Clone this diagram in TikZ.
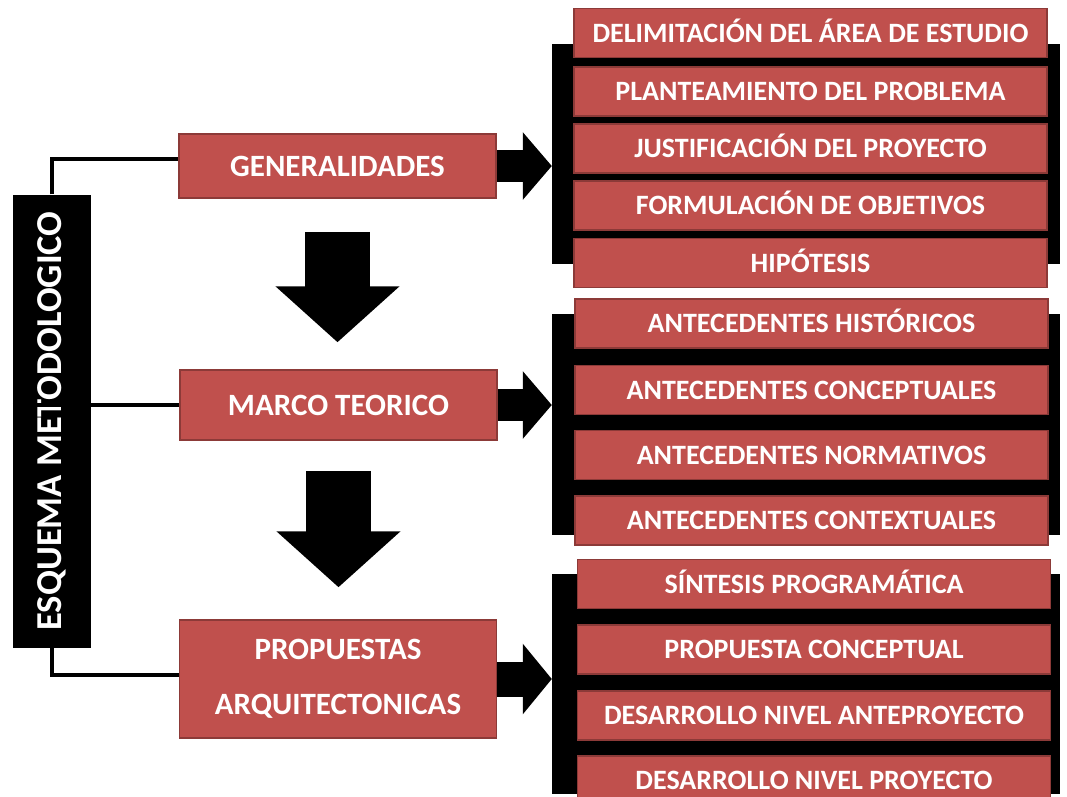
\documentclass[tikz,border=0pt]{standalone}
\usepackage{fontspec}
\setmainfont{Carlito}
\usetikzlibrary{arrows.meta,calc}
\definecolor{boxred}{HTML}{C0504D}
\definecolor{boxline}{HTML}{8C3A38}

\begin{document}
\begin{tikzpicture}[x=1pt,y=-1pt]
        \tikzset{
          item/.style={draw=boxline, line width=1.5pt, fill=boxred, text=white,
            font=\bfseries\fontsize{28}{32}\selectfont, text height=18pt, text depth=0pt,
            minimum width=473pt, minimum height=49pt, inner sep=0pt},
          main/.style={item, font=\bfseries\fontsize{31}{55}\selectfont, text height=20pt,
            minimum width=317pt, minimum height=64pt},
          band/.style={fill=black, minimum width=508pt, inner sep=0pt},
          conn/.style={line width=4pt},
          sidearrow/.style={line width=32pt, -{Triangle[length=29pt,width=66pt]}},
          downarrow/.style={line width=65pt, -{Triangle[length=56pt,width=121pt]}}
        }
        \useasboundingbox (0,0) rectangle (1067,796);
        \clip (0,0) rectangle (1067,796);
        % left title
        \node [fill=black, text=white, rotate=90, minimum width=453pt, minimum height=78pt,
          font=\bfseries\fontsize{36.5}{40}\selectfont] (esquema) at (52,421) {ESQUEMA METODOLOGICO};
        % main boxes
        \node [main] (gen) at (337.5,166) {GENERALIDADES};
        \node [main, minimum height=70pt] (marco) at (338.5,405) {MARCO TEORICO};
        \node [main, minimum height=118pt, text height=, text depth=, align=center] (prop) at (338,679) {PROPUESTAS\\ARQUITECTONICAS};
        % black bands
        \node [band, minimum height=220pt] (bg) at (806,154) {};
        \node [band, minimum height=221pt] (bm) at (806,424.5) {};
        \node [band, minimum height=220pt] (bp) at (806,684) {};
        % generalidades
        \node [item] (g1) at (810.5,33) {DELIMITACIÓN DEL ÁREA DE ESTUDIO};
        \node [item] (g2) at (810.5,91.5) {PLANTEAMIENTO DEL PROBLEMA};
        \node [item] (g3) at (810.5,148.5) {JUSTIFICACIÓN DEL PROYECTO};
        \node [item] (g4) at (810.5,205.5) {FORMULACIÓN DE OBJETIVOS};
        \node [item] (g5) at (810.5,263) {HIPÓTESIS};
        % marco teorico
        \node [item] (m1) at (811.5,323.5) {ANTECEDENTES HISTÓRICOS};
        \node [item] (m2) at (811.5,390) {ANTECEDENTES CONCEPTUALES};
        \node [item] (m3) at (811.5,455) {ANTECEDENTES NORMATIVOS};
        \node [item] (m4) at (811.5,520.5) {ANTECEDENTES CONTEXTUALES};
        % propuestas
        \node [item] (p1) at (814,584) {SÍNTESIS PROGRAMÁTICA};
        \node [item] (p2) at (814,649.5) {PROPUESTA CONCEPTUAL};
        \node [item] (p3) at (814,715.5) {DESARROLLO NIVEL ANTEPROYECTO};
        \node [item] (p4) at (814,780.5) {DESARROLLO NIVEL PROYECTO};
        % connectors
        \draw [conn] (esquema.east) |- ([yshift=7pt]gen.west);
        \draw [conn] (esquema.north |- marco.west) -- (marco.west);
        \draw [conn] (esquema.west) |- ([yshift=4pt]prop.west);
        % block arrows
        \draw [sidearrow] (gen.east) -- (gen.east -| bg.west);
        \draw [sidearrow] (marco.east) -- (marco.east -| bm.west);
        \draw [sidearrow, line width=35pt, -{Triangle[length=29pt,width=69pt]}] (prop.east) -- (prop.east -| bp.west);
        \draw [downarrow, shorten <=33pt, shorten >=27pt] (gen.south) -- (gen.south |- marco.north);
        \draw [downarrow, shorten <=30pt, shorten >=32pt] (marco.south) -- (marco.south |- prop.north);
\end{tikzpicture}
\end{document}
